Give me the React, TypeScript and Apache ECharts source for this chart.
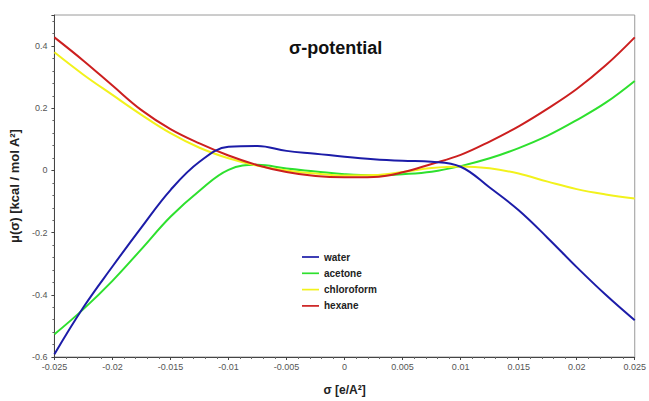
import React, { useEffect, useRef } from "react";
import * as echarts from "echarts";

const sigma = [-0.025, -0.0225, -0.02, -0.0175, -0.015, -0.0125, -0.01, -0.0075, -0.005, -0.0025, 0, 0.0025, 0.005, 0.0075, 0.01, 0.0125, 0.015, 0.0175, 0.02, 0.0225, 0.025];
const water = [-0.591, -0.44, -0.309, -0.183, -0.063, 0.028, 0.076, 0.079, 0.063, 0.054, 0.044, 0.036, 0.031, 0.028, 0.012, -0.055, -0.128, -0.217, -0.311, -0.4, -0.482];
const acetone = [-0.527, -0.446, -0.355, -0.253, -0.149, -0.065, 0.002, 0.018, 0.006, -0.003, -0.012, -0.016, -0.012, -0.004, 0.014, 0.039, 0.072, 0.112, 0.162, 0.218, 0.288];
const chloroform = [0.38, 0.308, 0.243, 0.179, 0.12, 0.073, 0.039, 0.015, 0.0, -0.01, -0.016, -0.015, -0.005, 0.008, 0.013, 0.007, -0.01, -0.036, -0.06, -0.077, -0.09];
const hexane = [0.428, 0.353, 0.273, 0.194, 0.133, 0.087, 0.048, 0.017, -0.005, -0.018, -0.022, -0.021, -0.006, 0.021, 0.05, 0.093, 0.142, 0.199, 0.262, 0.338, 0.428];

const seriesNames = ["water", "acetone", "chloroform", "hexane"];
const seriesValues = [water, acetone, chloroform, hexane];
const seriesColors = ["#1c1ca8", "#2ee02e", "#f2f21c", "#cc1f1f"];

const FONT = "Arial, 'Liberation Sans', sans-serif";

export default function App() {
  const ref = useRef<HTMLDivElement>(null);
  useEffect(() => {
    if (!ref.current) return;
    const chart = echarts.init(ref.current, null, { renderer: "svg" });
    const fmt = (v: number) => {
      const r = Math.round(v * 1000) / 1000;
      return String(r);
    };
    chart.setOption({
      animation: false,
      backgroundColor: "#ffffff",
      title: {
        text: "σ-potential",
        left: 284,
        top: 34,
        textStyle: { fontFamily: FONT, fontSize: 18, fontWeight: "bold", color: "#111" },
      },
      legend: {
        orient: "vertical",
        left: 297,
        top: 247,
        itemWidth: 17,
        itemHeight: 12,
        itemGap: 6.3,
        icon: "path://M0,5 L20,5 L20,7 L0,7 Z",
        data: seriesNames,
        textStyle: { fontFamily: FONT, fontSize: 10, fontWeight: "bold", color: "#222" },
      },
      grid: {
        left: 52,
        right: 11,
        top: 15,
        bottom: 42,
        show: true,
        borderColor: "#9a9a9a",
        borderWidth: 1,
        backgroundColor: "transparent",
      },
      xAxis: {
        type: "value",
        min: -0.025,
        max: 0.025,
        interval: 0.005,
        name: "σ [e/A²]",
        nameLocation: "middle",
        nameGap: 27,
        nameTextStyle: { fontFamily: FONT, fontSize: 12, fontWeight: "bold", color: "#222" },
        axisLine: { show: true, onZero: false, lineStyle: { color: "#444", width: 1 } },
        axisTick: { show: true, length: 3, lineStyle: { color: "#444" } },
        minorTick: { show: true, splitNumber: 5, length: 2, lineStyle: { color: "#666" } },
        splitLine: { show: false },
        minorSplitLine: { show: false },
        axisLabel: { fontFamily: FONT, fontSize: 9, color: "#555", margin: 5, formatter: fmt },
      },
      yAxis: {
        type: "value",
        min: -0.6,
        max: 0.5,
        interval: 0.2,
        name: "μ(σ) [kcal / mol A²]",
        nameLocation: "middle",
        nameRotate: 90,
        nameGap: 32,
        nameTextStyle: { fontFamily: FONT, fontSize: 13, fontWeight: "bold", color: "#222" },
        axisLine: { show: true, onZero: false, lineStyle: { color: "#444", width: 1 } },
        axisTick: { show: true, length: 3, lineStyle: { color: "#444" } },
        minorTick: { show: true, splitNumber: 5, length: 2, lineStyle: { color: "#666" } },
        splitLine: { show: false },
        minorSplitLine: { show: false },
        axisLabel: {
          fontFamily: FONT,
          fontSize: 9,
          color: "#555",
          margin: 7,
          showMaxLabel: false,
          formatter: (v: number) => {
            if (Math.abs(v - 0.5) < 1e-9) return "";
            return fmt(v);
          },
        },
      },
      series: seriesNames.map((name, i) => ({
        name,
        type: "line",
        smooth: 0.4,
        symbol: "none",
        color: seriesColors[i],
        lineStyle: { color: seriesColors[i], width: 2 },
        z: i === 0 ? 5 : 3,
        data: sigma.map((s, j) => [s, seriesValues[i][j]]),
      })),
    });
    return () => chart.dispose();
  }, []);
  return <div ref={ref} style={{ position: "fixed", left: 0, top: 0, width: 649, height: 401 }} />;
}
